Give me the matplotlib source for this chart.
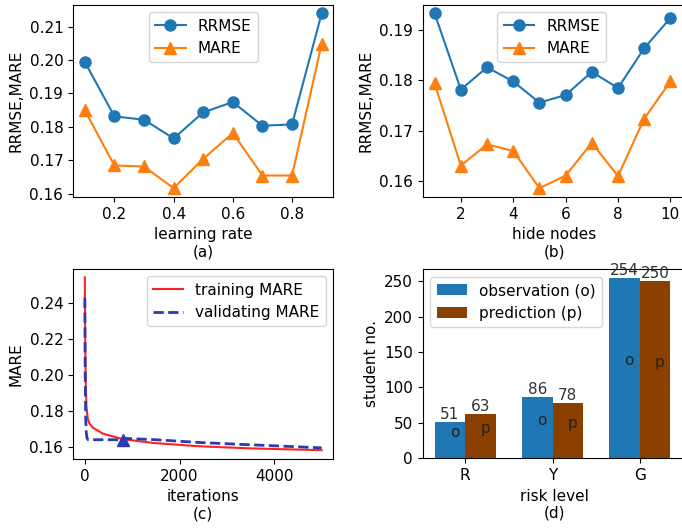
import matplotlib
matplotlib.use("Agg")
import matplotlib.pyplot as plt
import numpy as np

plt.rcParams['font.size'] = 11

# (a) learning rate
lr = [0.1, 0.2, 0.3, 0.4, 0.5, 0.6, 0.7, 0.8, 0.9]
lr_rrmse = [0.1994, 0.1831, 0.1821, 0.1765, 0.1843, 0.1874, 0.1803, 0.1807, 0.2139]
lr_mare = [0.1849, 0.1684, 0.1681, 0.1616, 0.1704, 0.1781, 0.1654, 0.1654, 0.2048]

# (b) hide nodes
nodes = [1, 2, 3, 4, 5, 6, 7, 8, 9, 10]
hn_rrmse = [0.1933, 0.1782, 0.1826, 0.1798, 0.1756, 0.1771, 0.1817, 0.1785, 0.1864, 0.1924]
hn_mare = [0.1794, 0.1631, 0.1673, 0.1660, 0.1586, 0.1611, 0.1676, 0.1610, 0.1724, 0.1798]

# (c) iterations
train_iter = [0, 5, 10, 20, 35, 64, 100, 170, 380, 810, 1450, 2400, 3500, 5000]
train_mare = [0.254, 0.232, 0.215, 0.195, 0.182, 0.175, 0.1728, 0.1705, 0.1672, 0.1641, 0.1620, 0.1602, 0.1590, 0.1580]
val_iter = [0, 5, 10, 20, 30, 45, 70, 800, 820, 1500, 2400, 3500, 5000]
val_mare = [0.2426, 0.215, 0.195, 0.175, 0.168, 0.1648, 0.1638, 0.1638, 0.1646, 0.1638, 0.1623, 0.1610, 0.1593]
best_iter = 810
best_val = 0.1634

# (d) risk level
levels = ['R', 'Y', 'G']
observation = [51, 86, 254]
prediction = [63, 78, 250]

fig = plt.figure(figsize=(6.82, 5.28), dpi=100)
W = 0.382
WR = 0.386
ax1 = fig.add_axes([0.107, 0.627, W, 0.364])
ax2 = fig.add_axes([0.620, 0.627, WR, 0.364])
ax3 = fig.add_axes([0.107, 0.131, W, 0.360])
ax4 = fig.add_axes([0.620, 0.132, WR, 0.358])

ax1.plot(lr, lr_rrmse, marker='o', markersize=8, label='RRMSE')
ax1.plot(lr, lr_mare, marker='^', markersize=8, label='MARE')
ax1.set_xlabel('learning rate\n(a)')
ax1.set_ylabel('RRMSE,MARE')
ax1.set_yticks([0.16, 0.17, 0.18, 0.19, 0.20, 0.21])
ax1.set_xticks([0.2, 0.4, 0.6, 0.8])
ax1.legend(loc='upper center')

ax2.plot(nodes, hn_rrmse, marker='o', markersize=8, label='RRMSE')
ax2.plot(nodes, hn_mare, marker='^', markersize=8, label='MARE')
ax2.set_xlabel('hide nodes\n(b)')
ax2.set_ylabel('RRMSE,MARE')
ax2.set_xlim(0.55, 10.6)
ax2.set_xticks([2, 4, 6, 8, 10])
ax2.set_yticks([0.16, 0.17, 0.18, 0.19])
ax2.legend(loc='upper center', bbox_to_anchor=(0.49, 1.0))

ax3.plot(train_iter, train_mare, color='#ff2020', label='training MARE')
ax3.plot(val_iter, val_mare, color='#2a3ab5', linestyle='--', linewidth=2, label='validating MARE')
ax3.plot([best_iter], [best_val], marker='^', color='#2a3ab5', markersize=8)
ax3.set_xlabel('iterations\n(c)')
ax3.set_ylabel('MARE')
ax3.set_yticks([0.16, 0.18, 0.20, 0.22, 0.24])
ax3.set_xticks([0, 2000, 4000])
ax3.legend(loc='upper right')

x = np.arange(len(levels))
w = 0.35
b1 = ax4.bar(x - w / 2, observation, w, color='#1f77b4', label='observation (o)')
b2 = ax4.bar(x + w / 2, prediction, w, color='#8b4000', label='prediction (p)')
for rects, ch in ((b1, 'o'), (b2, 'p')):
    for r in rects:
        h = r.get_height()
        cx = r.get_x() + r.get_width() / 2
        ax4.text(cx, h, '%d' % h, ha='center', va='bottom', color='#333333')
        ax4.text(cx, h / 2, ch, ha='left', va='bottom', color='#222222')
ax4.set_xlim(-0.485, 2.53)
ax4.set_xticks(x)
ax4.set_xticklabels(levels)
ax4.set_xlabel('risk level\n(d)')
ax4.set_ylabel('student no.')
ax4.legend(loc='upper left')

fig.savefig('out.png', dpi=100)
